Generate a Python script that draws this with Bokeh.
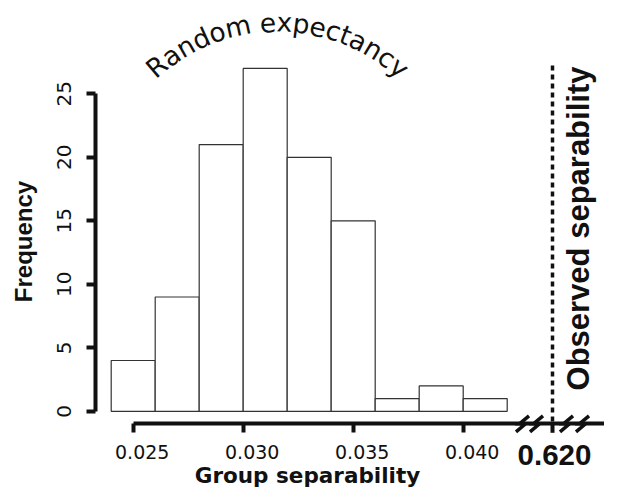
import math
from bokeh.plotting import figure
from bokeh.models import (Range1d, LinearAxis, FixedTicker, PrintfTickFormatter,
                          CustomJSTickFormatter)
from bokeh.core.properties import value
from bokeh.embed import file_html
from bokeh.resources import INLINE

# ---------------- data ----------------
bin_edges = [0.024, 0.026, 0.028, 0.030, 0.032, 0.034, 0.036, 0.038, 0.040, 0.042]
counts = [4, 9, 21, 27, 20, 15, 1, 2, 1]
x_ticks = [0.025, 0.030, 0.035, 0.040]
y_ticks = [0, 5, 10, 15, 20, 25]
observed = 0.620
x_title = "Group separability"
y_title = "Frequency"
arc_title = "Random expectancy"
obs_title = "Observed separability"

# ---------------- layout ----------------
W, H = 604, 488
SX = 22000.0          # px per x unit
SY = 12.7             # px per count
X_REF, X_REF_PX = 0.024, 110.7
Y_REF_PX = 410.8      # screen y of count 0
INK = "#111111"


def dx(px):
    return X_REF + (px - X_REF_PX) / SX


def dy(py):
    return (Y_REF_PX - py) / SY


axis_y_x = dx(95)        # where y axis sits
axis_x_y = dy(423.3)     # where x axis sits
obs_x = dx(552)          # position of observed value on broken axis
obs_top = dy(65)

p = figure(width=W, height=H, x_range=Range1d(dx(0), dx(W)),
           y_range=Range1d(dy(H), dy(0)), output_backend="svg",
           toolbar_location=None, x_axis_location=None, y_axis_location=None,
           min_border=0, outline_line_color=None, background_fill_color="white")
p.xgrid.visible = False
p.ygrid.visible = False
p.extra_x_ranges = {"lab": Range1d(dx(0) - 9 / SX, dx(W) - 9 / SX)}

# histogram bars
p.quad(left=bin_edges[:-1], right=bin_edges[1:], bottom=0, top=counts,
       fill_color="white", line_color="#333333", line_width=1.2)

# y axis
yax = LinearAxis(fixed_location=axis_y_x, bounds=(y_ticks[0], y_ticks[-1]),
                 ticker=FixedTicker(ticks=y_ticks),
                 axis_line_width=4, axis_line_color=INK,
                 major_tick_line_width=4, major_tick_line_color=INK,
                 major_tick_out=9, major_tick_in=0, minor_tick_out=0, minor_tick_in=0,
                 major_label_orientation="vertical", major_label_standoff=15,
                 major_label_text_font="DejaVu Sans", major_label_text_font_size="20px",
                 major_label_text_color=INK)
p.add_layout(yax, "left")

# x axis line + ticks
xax = LinearAxis(fixed_location=axis_x_y, bounds=(x_ticks[0], dx(W)),
                 ticker=FixedTicker(ticks=x_ticks),
                 formatter=CustomJSTickFormatter(code="return ''"),
                 axis_line_width=4, axis_line_color=INK,
                 major_tick_line_width=4, major_tick_line_color=INK,
                 major_tick_out=9, major_tick_in=0, minor_tick_out=0, minor_tick_in=0,
                 major_label_text_font_size="1px")
p.add_layout(xax, "below")

# x tick labels (offset as in the original) + title
xlab = LinearAxis(x_range_name="lab", fixed_location=axis_x_y,
                  bounds=(x_ticks[0], x_ticks[-1]), ticker=FixedTicker(ticks=x_ticks),
                  formatter=PrintfTickFormatter(format="%.3f"),
                  axis_line_color=None, major_tick_line_color=None,
                  major_tick_out=0, major_tick_in=0, minor_tick_out=0, minor_tick_in=0,
                  major_label_standoff=21,
                  major_label_text_font="DejaVu Sans", major_label_text_font_size="19px",
                  major_label_text_color=INK,
                  axis_label=x_title, axis_label_text_font="DejaVu Sans",
                  axis_label_text_font_style="bold", axis_label_text_font_size="21.5px",
                  axis_label_text_color=INK, axis_label_standoff=1)
p.add_layout(xlab, "below")

# y title
p.text(x=[dx(23)], y=[dy(241)], text=[y_title], angle=math.pi / 2,
       text_font=value("Liberation Sans"), text_font_style="bold",
       text_font_size=value("24px"), text_align="center",
       text_baseline="alphabetic", text_color=INK)

# observed value: dashed line, tick, label, title
p.segment(x0=[obs_x], y0=[obs_top], x1=[obs_x], y1=[axis_x_y],
          line_color=INK, line_width=3.5, line_dash="5 4")
p.segment(x0=[obs_x], y0=[axis_x_y], x1=[obs_x], y1=[axis_x_y - 9 / SY],
          line_color=INK, line_width=4)
p.text(x=[dx(554)], y=[dy(454)], text=["%.3f" % observed],
       text_font=value("Liberation Sans"), text_font_style="bold",
       text_font_size=value("29.5px"), text_align="center",
       text_baseline="alphabetic", text_color=INK)
p.text(x=[dx(578)], y=[dy(228)], text=[obs_title], angle=math.pi / 2,
       text_font=value("Liberation Sans"), text_font_style="bold",
       text_font_size=value("31px"), text_align="center",
       text_baseline="alphabetic", text_color=INK)

# axis break marks
mark_offsets = [-30, -16, 14, 30]
shape = [(6.5, -8), (-3, 0), (3, 0), (-6.5, 8)]
bx, by = [], []
for off in mark_offsets:
    bx.append([obs_x + (off + sx) / SX for sx, sy in shape])
    by.append([axis_x_y - sy / SY for sx, sy in shape])
p.multi_line(xs=bx, ys=by, line_color=INK, line_width=3.5, line_join="miter")

# curved "Random expectancy"
DV_W = {"R": 694.8, "a": 612.8, "n": 633.8, "d": 634.8, "o": 611.8, "m": 974.1,
        " ": 317.9, "e": 615.2, "x": 591.8, "p": 634.8, "c": 549.8, "t": 392.1,
        "y": 591.8}
arc_fs = 26.5
arc_r = 180.0
arc_cx, arc_top = 277.0, 28.0
arc_corr = 6.5            # baseline correction (outward)
widths = [DV_W[c] * arc_fs / 1000 for c in arc_title]
L = sum(widths)
cum = 0.0
cx, cy, ca, ct = [], [], [], []
for c, w in zip(arc_title, widths):
    s = cum + w / 2 - L / 2
    phi = s / arc_r
    cum += w
    if c == " ":
        continue
    rr = arc_r + arc_corr
    cx.append(dx(arc_cx + rr * math.sin(phi)))
    cy.append(dy(arc_top + arc_r - rr * math.cos(phi)))
    ca.append(-phi)
    ct.append(c)
p.text(x=cx, y=cy, text=ct, angle=ca, text_font=value("DejaVu Sans"),
       text_font_size=value("%.1fpx" % arc_fs), text_align="center",
       text_baseline="alphabetic", text_color=INK)

open("out.html", "w").write(file_html(p, INLINE))
